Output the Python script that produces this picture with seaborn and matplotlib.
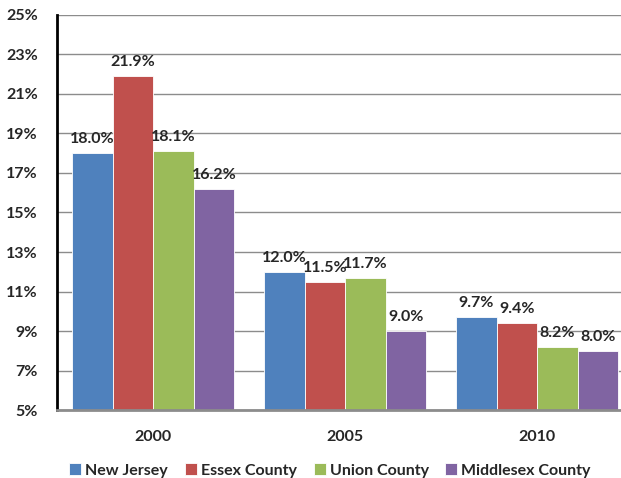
import seaborn as sns
import pandas as pd
import matplotlib.pyplot as plt
from matplotlib.ticker import FuncFormatter

# data
years = ["2000", "2005", "2010"]
regions = ["New Jersey", "Essex County", "Union County", "Middlesex County"]
new_jersey = [18.0, 12.0, 9.7]
essex = [21.9, 11.5, 9.4]
union = [18.1, 11.7, 8.2]
middlesex = [16.2, 9.0, 8.0]
colors = ["#4F81BD", "#C0504D", "#9BBB59", "#8064A2"]

rows = []
for name, vals in zip(regions, [new_jersey, essex, union, middlesex]):
    for yr, v in zip(years, vals):
        rows.append({"Year": yr, "Region": name, "Rate": v})
df = pd.DataFrame(rows)

sns.set_style("white")
plt.rcParams["font.family"] = ["Lato", "DejaVu Sans"]
plt.rcParams["font.weight"] = "bold"

fig = plt.figure(figsize=(6.21, 4.78), dpi=100)
# the original chart is cut off on the right, so the axes run past the edge
ax = fig.add_axes([0.092, 0.142, 0.9275, 0.827])

sns.barplot(data=df, x="Year", y="Rate", hue="Region", order=years,
            hue_order=regions, palette=colors, width=0.845, ax=ax,
            edgecolor="white", linewidth=0.6, saturation=1)

ax.set_xlim(-0.5, 2.5)
ax.set_ylim(5, 25)
ax.set_yticks(range(5, 26, 2))
ax.yaxis.set_major_formatter(FuncFormatter(lambda v, p: f"{v:.0f}%"))
ax.grid(axis="y", color="#8c8c8c", linewidth=1)
ax.set_axisbelow(True)
ax.set_xlabel("")
ax.set_ylabel("")
ax.tick_params(axis="both", labelsize=11.5, length=0)
ax.tick_params(axis="x", pad=14)
ax.tick_params(axis="y", pad=14)
for lbl in ax.get_xticklabels() + ax.get_yticklabels():
    lbl.set_fontweight("bold")

for s in ["top", "right"]:
    ax.spines[s].set_visible(False)
ax.spines["left"].set_color("black")
ax.spines["left"].set_linewidth(2)
ax.spines["bottom"].set_color("#8c8c8c")
ax.spines["bottom"].set_linewidth(2)

for cont in ax.containers:
    ax.bar_label(cont, fmt="%.1f%%", padding=5, fontsize=11.5, fontweight="bold")

ax.legend(loc="upper center", bbox_to_anchor=(0.474, -0.098), ncol=4,
          frameon=False, handlelength=0.75, handleheight=0.75,
          handletextpad=0.25, columnspacing=1.05, prop={"weight": "bold", "size": 11.5})

fig.savefig("out.png", dpi=100)
